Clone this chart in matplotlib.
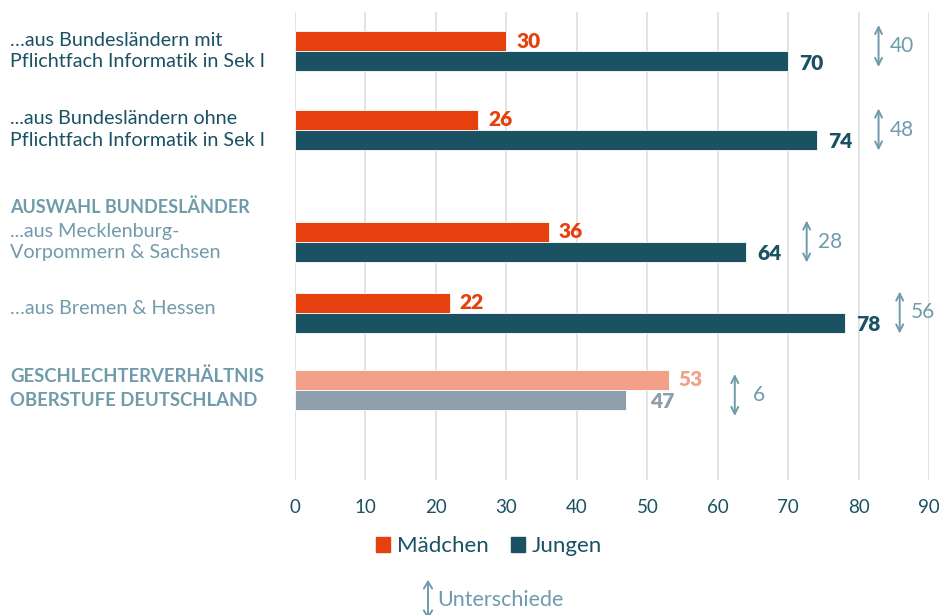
import matplotlib
matplotlib.use("Agg")
import matplotlib.pyplot as plt
from matplotlib.patches import Patch, FancyArrowPatch
from matplotlib.transforms import blended_transform_factory

# --- data -----------------------------------------------------------------
labels = [
    "\u2026aus Bundesländern mit\nPflichtfach Informatik in Sek I",
    "...aus Bundesländern ohne\nPflichtfach Informatik in Sek I",
    "...aus Mecklenburg-\nVorpommern & Sachsen",
    "\u2026aus Bremen & Hessen",
    "",
]
maedchen = [30, 26, 36, 22, 53]
jungen = [70, 74, 64, 78, 47]
diffs = [abs(j - m) for m, j in zip(maedchen, jungen)]

# --- layout (pixel rows of the 939x615 canvas) ----------------------------
W, H = 939, 615
group_y = [51, 129.5, 241.5, 312.5, 389.5]
arrow_x = [82.8, 82.8, 72.6, 85.8, 62.4]
arrow_y = [46, 129.5, 241.5, 312.5, 395]
label_y = [51, 129.5, 242, 309, None]

ORANGE = "#E5400E"
TEAL = "#1A5263"
SALMON = "#F2A089"
GREY = "#8E9EAA"
LIGHT = "#6F9BAB"
GRID = "#DEDEDE"

plt.rcParams["font.family"] = ["Lato", "DejaVu Sans"]

fig = plt.figure(figsize=(W / 100, H / 100), dpi=100)
ax = fig.add_axes([295 / W, 1 - 480 / H, (929.3 - 295) / W, (480 - 12) / H])
ax.set_xlim(0, 90)
ax.set_ylim(480, 12)

bh = 20
for i, (m, j) in enumerate(zip(maedchen, jungen)):
    last = i == len(maedchen) - 1
    cm = SALMON if last else ORANGE
    cj = GREY if last else TEAL
    ym = group_y[i] - bh / 2
    yj = group_y[i] + bh / 2
    ax.barh(ym, m, height=bh, color=cm, edgecolor="white", linewidth=0.6, zorder=3)
    ax.barh(yj, j, height=bh, color=cj, edgecolor="white", linewidth=0.6, zorder=3)
    ax.annotate(str(m), (m, ym), xytext=(7, 0), textcoords="offset points",
                va="center", ha="left", fontsize=15, fontweight="heavy", color=cm)
    ax.annotate(str(j), (j, yj + 2), xytext=(17 if last else 8, 0),
                textcoords="offset points", va="center", ha="left",
                fontsize=15, fontweight="heavy", color=cj)

    # difference arrow
    ax.annotate("", xy=(arrow_x[i], arrow_y[i] - 21), xytext=(arrow_x[i], arrow_y[i] + 21),
                arrowprops=dict(arrowstyle="<->,head_length=0.5,head_width=0.25",
                                color=LIGHT, lw=1.4, shrinkA=0, shrinkB=0))
    ax.annotate(str(diffs[i]), (arrow_x[i], arrow_y[i]),
                xytext=(13 if diffs[i] < 10 else 8, 0),
                textcoords="offset points", va="center", ha="left",
                fontsize=15, color=LIGHT)

# axes styling
for s in ax.spines.values():
    s.set_visible(False)
ax.set_xticks(range(0, 91, 10))
ax.set_yticks([])
ax.grid(axis="x", color=GRID, lw=1.2, zorder=0)
ax.tick_params(axis="x", length=0, pad=14, labelsize=13.5, labelcolor=TEAL)

# left-hand labels
tr = blended_transform_factory(fig.transFigure, ax.transData)
for i, lab in enumerate(labels):
    if not lab:
        continue
    ax.text(10 / W, label_y[i], lab, transform=tr, ha="left", va="center",
            fontsize=14.2, color=TEAL if i < 2 else LIGHT, linespacing=1.35)
ax.text(10 / W, 207, "AUSWAHL BUNDESLÄNDER", transform=tr, ha="left", va="center",
        fontsize=13, fontweight="bold", color=LIGHT)
ax.text(10 / W, 388, "GESCHLECHTERVERHÄLTNIS\nOBERSTUFE DEUTSCHLAND", transform=tr,
        ha="left", va="center", fontsize=13.3, fontweight="bold", color=LIGHT,
        linespacing=1.55)

# legend
handles = [Patch(color=ORANGE, label="Mädchen"), Patch(color=TEAL, label="Jungen")]
leg = fig.legend(handles=handles, loc="center", bbox_to_anchor=(489 / W, 1 - 546 / H),
                 ncol=2, frameon=False, fontsize=16, handlelength=0.65, handleheight=0.65,
                 handletextpad=0.3, columnspacing=1.0)
for t in leg.get_texts():
    t.set_color(TEAL)

# "Unterschiede" key
fig.add_artist(FancyArrowPatch(
    (428 / W, 1 - 577 / H), (428 / W, 1 - 622 / H), transform=fig.transFigure,
    arrowstyle="<->,head_length=5,head_width=3", color=LIGHT, lw=1.4))
fig.text(437 / W, 1 - 600 / H, "Unterschiede", ha="left", va="center",
         fontsize=15.5, color=LIGHT)

fig.savefig("out.png", dpi=100)
